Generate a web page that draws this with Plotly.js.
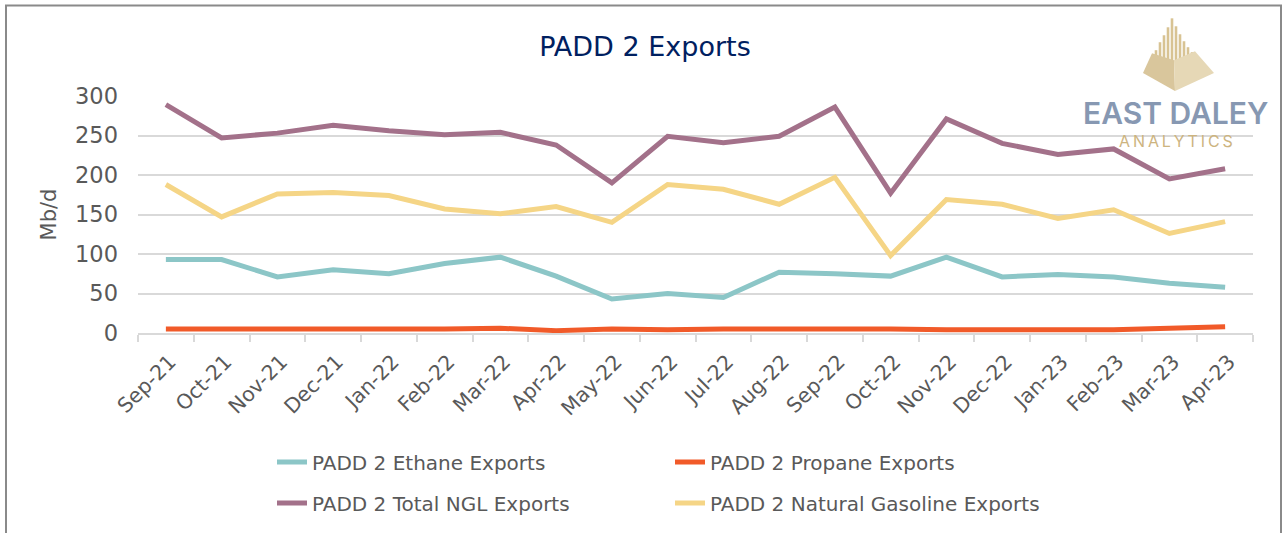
<!DOCTYPE html>
<html>
<head>
<meta charset="utf-8">
<script src="https://cdn.plot.ly/plotly-3.0.1.min.js"></script>
<style>
  html, body { margin: 0; padding: 0; background: #ffffff; }
  #chart { width: 1283px; height: 533px; }
</style>
</head>
<body>
<div id="chart"></div>
<script>
// ---- Data (Mb/d) ----
const months = ["Sep-21","Oct-21","Nov-21","Dec-21","Jan-22","Feb-22","Mar-22","Apr-22","May-22","Jun-22",
                "Jul-22","Aug-22","Sep-22","Oct-22","Nov-22","Dec-22","Jan-23","Feb-23","Mar-23","Apr-23"];
const ethaneExports   = [93, 93, 71, 80, 75, 88, 96, 72, 43, 50, 45, 77, 75, 72, 96, 71, 74, 71, 63, 58];
const propaneExports  = [5, 5, 5, 4, 5, 5, 6, 3, 5, 4, 5, 5, 6, 5, 4, 4, 5, 4, 6, 8];
const totalNglExports = [289, 247, 253, 263, 256, 251, 254, 238, 190, 249, 241, 249, 286, 177, 271, 240, 226, 233, 195, 208];
const natGasolineExports = [188, 147, 176, 178, 174, 157, 151, 160, 140, 188, 182, 163, 197, 98, 169, 163, 145, 156, 126, 141];
const yTickVals = [0, 50, 100, 150, 200, 250, 300];

// ---- Layout geometry (pixels) ----
const W = 1283, H = 533;
const M = { l: 138, r: 30, t: 96, b: 199 };
const PW = W - M.l - M.r, PH = H - M.t - M.b;
const X = px => (px - M.l) / PW;           // pixel -> paper x
const Y = py => (H - M.b - py) / PH;       // pixel -> paper y

const FONT = "DejaVu Sans, Arial, sans-serif";
const GREY_TXT = "#595959";

function line(name, y, color, legend) {
  return {
    type: "scatter", mode: "lines", name: name, x: months, y: y,
    line: { color: color, width: 5, shape: "linear" },
    legend: legend, hoverinfo: "x+y+name"
  };
}

const data = [
  line("PADD 2 Ethane Exports", ethaneExports, "#8CC6C7", "legend"),
  line("PADD 2 Propane Exports", propaneExports, "#F15A29", "legend"),
  line("PADD 2 Total NGL Exports", totalNglExports, "#A3718A", "legend2"),
  line("PADD 2 Natural Gasoline Exports", natGasolineExports, "#F5D586", "legend2")
];

// logo pieces (decoration)
function poly(pts, fill) {
  let d = pts.map((p, i) => (i ? "L" : "M") + X(p[0]).toFixed(5) + "," + Y(p[1]).toFixed(5)).join(" ") + " Z";
  return { type: "path", xref: "paper", yref: "paper", path: d, fillcolor: fill, line: { width: 0 }, layer: "above" };
}
const shapes = [
  // outer frame
  { type: "rect", xref: "paper", yref: "paper", x0: X(6), x1: X(1281), y0: Y(5), y1: Y(545),
    line: { color: "#8A8A8A", width: 2 }, fillcolor: "rgba(0,0,0,0)", layer: "below" }
];
const bars = [[1156,50],[1160,42],[1164,35],[1168,27],[1172,18],[1176,26],[1180,34],[1184,41],[1188,47],[1192,52]];
bars.forEach(b => {
  shapes.push({ type: "rect", xref: "paper", yref: "paper", x0: X(b[0]-1.3), x1: X(b[0]+1.3),
    y0: Y(62), y1: Y(b[1]), fillcolor: "#D8C393", line: { width: 0 }, layer: "above" });
});
shapes.push(poly([[1143,73],[1152,53],[1174,60],[1175,91]], "#D9C69C"));
shapes.push(poly([[1174,60],[1195,51],[1214,73],[1175,91]], "#E6D8B6"));

const layout = {
  width: W, height: H,
  margin: M,
  paper_bgcolor: "#ffffff", plot_bgcolor: "#ffffff",
  font: { family: FONT, color: GREY_TXT, size: 20 },
  title: {
    text: "PADD 2 Exports",
    font: { family: FONT, size: 27, color: "#002060" },
    xref: "container", yref: "container",
    x: 645 / W, xanchor: "center", y: 1 - 47 / H, yanchor: "middle"
  },
  xaxis: {
    type: "category", automargin: false, range: [-0.5, months.length - 0.5],
    showline: true, linecolor: "#D9D9D9", linewidth: 1.5,
    ticks: "outside", tickson: "boundaries", ticklen: 7, tickcolor: "#D9D9D9", tickwidth: 1.5,
    tickangle: -45, ticklabelshift: 4, ticklabelstandoff: 7,
    tickfont: { family: FONT, size: 20.5, color: GREY_TXT },
    showgrid: false, zeroline: false, fixedrange: true
  },
  yaxis: {
    range: [0, 300], tickvals: yTickVals, automargin: false,
    showgrid: true, gridcolor: "#D9D9D9", gridwidth: 1.5,
    zeroline: false, showline: false, ticks: "",
    ticklabelstandoff: 19,
    tickfont: { family: FONT, size: 22.5, color: GREY_TXT },
    title: { text: "Mb/d", font: { family: FONT, size: 21, color: GREY_TXT }, standoff: 12 },
    fixedrange: true
  },
  legend: {
    orientation: "h", xref: "paper", yref: "paper",
    x: X(272), xanchor: "left", y: Y(462), yanchor: "middle",
    entrywidth: 353, entrywidthmode: "pixels",
    font: { family: FONT, size: 20, color: GREY_TXT }, bgcolor: "rgba(0,0,0,0)", borderwidth: 0
  },
  legend2: {
    orientation: "h", xref: "paper", yref: "paper",
    x: X(272), xanchor: "left", y: Y(503), yanchor: "middle",
    entrywidth: 353, entrywidthmode: "pixels",
    font: { family: FONT, size: 20, color: GREY_TXT }, bgcolor: "rgba(0,0,0,0)", borderwidth: 0
  },
  shapes: shapes,
  annotations: [
    { text: "EAST DALEY", xref: "paper", yref: "paper", x: X(1175), y: Y(113),
      xanchor: "center", yanchor: "middle", showarrow: false,
      font: { family: "Inter, DejaVu Sans, sans-serif", size: 30, weight: 600, color: "#8798B2" } },
    { text: "A\u2009N\u2009A\u2009L\u2009Y\u2009T\u2009I\u2009C\u2009S", xref: "paper", yref: "paper", x: X(1176), y: Y(141),
      xanchor: "center", yanchor: "middle", showarrow: false,
      font: { family: "Inter, DejaVu Sans, sans-serif", size: 16, color: "#CDB47F" } }
  ],
  showlegend: true
};

Plotly.newPlot("chart", data, layout, { displayModeBar: false });
</script>
</body>
</html>
